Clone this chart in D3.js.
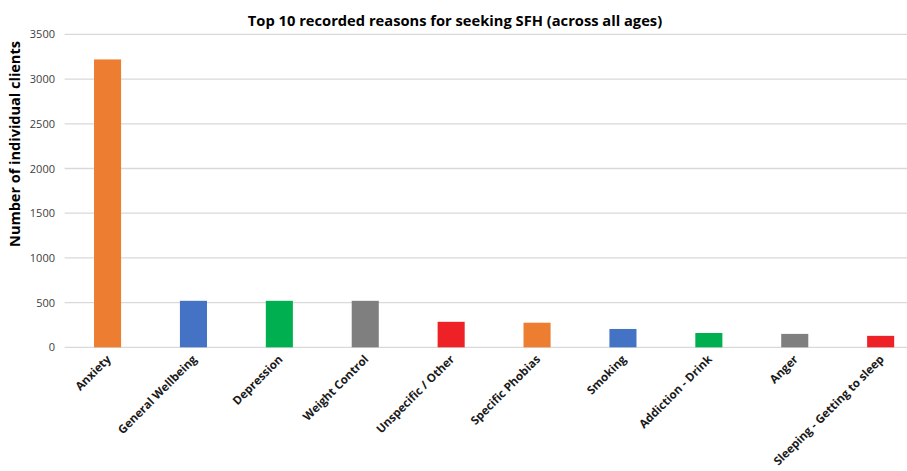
<!DOCTYPE html>
<html>
<head>
<meta charset="utf-8">
<script src="https://cdn.jsdelivr.net/npm/d3@7"></script>
<style>
  body { margin: 0; background: #fff; }
  svg { display: block; font-family: "Open Sans", sans-serif; }
</style>
</head>
<body>
<svg id="chart" width="907" height="471"></svg>
<script>
var reasons = ["Anxiety", "General Wellbeing", "Depression", "Weight Control",
  "Unspecific / Other", "Specific Phobias", "Smoking", "Addiction - Drink",
  "Anger", "Sleeping - Getting to sleep"];
var clients = [3220, 520, 520, 520, 285, 275, 205, 160, 150, 128];
var barColors = ["#ED7D31", "#4472C4", "#00B050", "#7F7F7F", "#EE2226"];
var yTicks = [0, 500, 1000, 1500, 2000, 2500, 3000, 3500];

var svg = d3.select('#chart');
var plotLeft = 64.6, plotRight = 923.6, plotTop = 34.4, plotBottom = 347.3;

var x = d3.scaleBand().domain(reasons).range([plotLeft, plotRight]).paddingInner(0.685).paddingOuter(0.3425);
var y = d3.scaleLinear().domain([0, 3500]).range([plotBottom, plotTop]);

// gridlines
svg.append('g')
  .selectAll('line')
  .data(yTicks).enter()
  .append('line')
  .attr('x1', plotLeft).attr('x2', plotRight)
  .attr('y1', function(d) { return y(d); })
  .attr('y2', function(d) { return y(d); })
  .attr('stroke', '#d9d9d9')
  .attr('stroke-width', 1.3);

// y tick labels
svg.append('g')
  .selectAll('text')
  .data(yTicks).enter()
  .append('text')
  .attr('x', 55)
  .attr('y', function(d) { return y(d) + 4; })
  .attr('text-anchor', 'end')
  .attr('font-size', 11)
  .attr('fill', '#404040')
  .text(function(d) { return d; });

// bars
svg.append('g')
  .selectAll('rect')
  .data(clients).enter()
  .append('rect')
  .attr('x', function(d, i) { return x(reasons[i]); })
  .attr('width', x.bandwidth())
  .attr('y', function(d) { return y(d); })
  .attr('height', function(d) { return y(0) - y(d); })
  .attr('fill', function(d, i) { return barColors[i % barColors.length]; });

// x labels
svg.append('g')
  .selectAll('text')
  .data(reasons).enter()
  .append('text')
  .attr('transform', function(d) {
    return 'translate(' + (x(d) + x.bandwidth() / 2 + 4) + ',' + 360 + ') rotate(-45)';
  })
  .attr('text-anchor', 'end')
  .attr('font-size', 11.6)
  .attr('font-weight', 'bold')
  .attr('fill', '#1a1a1a')
  .text(function(d) { return d; });

// y axis title
svg.append('text')
  .attr('transform', 'translate(20,144) rotate(-90)')
  .attr('text-anchor', 'middle')
  .attr('font-size', 14.5)
  .attr('font-weight', 'bold')
  .attr('fill', '#000')
  .text('Number of individual clients');

// title
svg.append('text')
  .attr('x', 455)
  .attr('y', 26)
  .attr('text-anchor', 'middle')
  .attr('font-size', 14.7)
  .attr('font-weight', 'bold')
  .attr('fill', '#000')
  .text('Top 10 recorded reasons for seeking SFH (across all ages)');
</script>
</body>
</html>
